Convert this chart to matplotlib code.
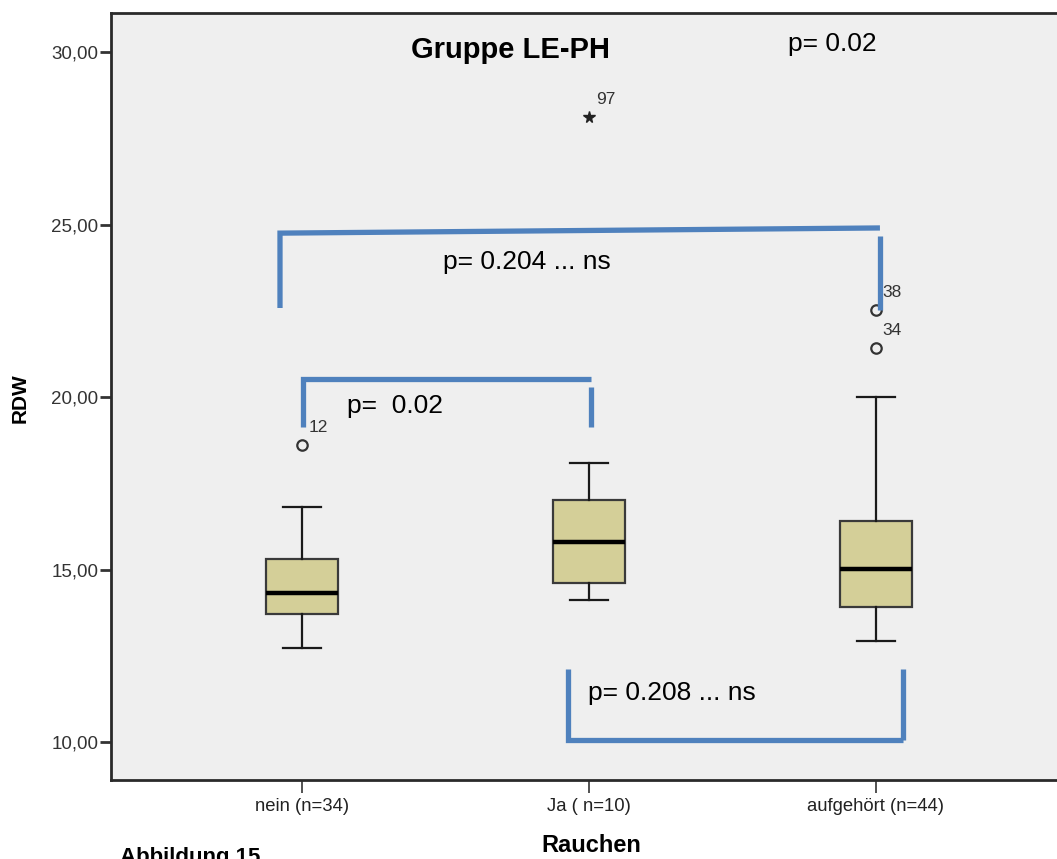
import matplotlib
matplotlib.use("Agg")
import matplotlib.pyplot as plt
from matplotlib import font_manager

# ---------------- data ----------------
categories = ["nein (n=34)", "Ja ( n=10)", "aufgehört (n=44)"]
whislo = [12.72, 14.12, 12.93]
q1 = [13.71, 14.61, 13.91]
med = [14.32, 15.80, 15.01]
q3 = [15.30, 17.01, 16.41]
whishi = [16.81, 18.09, 20.00]
outliers = [[18.61], [], [22.52, 21.42]]
outlier_ids = [["12"], [], ["38", "34"]]
extremes = [[], [28.12], []]
extreme_ids = [[], ["97"], []]
yticks = [10, 15, 20, 25, 30]
ytick_labels = ["10,00", "15,00", "20,00", "25,00", "30,00"]

title = "Gruppe LE-PH"
xlabel = "Rauchen"
ylabel = "RDW"

# significance annotations: (x_left, x_right, y_left_end, y_bar_left, y_bar_right, y_right_end, text, text_x, text_y)
brackets = [
    (-0.077, 2.014, 22.58, 24.75, 24.90, 22.52, "p= 0.204 ... ns", 0.491, 23.91),
    (0.003, 1.007, 19.13, 20.52, 20.52, 19.13, "p=  0.02", 0.157, 19.74),
    (0.927, 2.094, 12.12, 10.06, 10.06, 12.12, "p= 0.208 ... ns", 0.997, 11.42),
]
overall_p = "p= 0.02"

# ---------------- fonts ----------------
names = {f.name for f in font_manager.fontManager.ttflist}
base = "Liberation Sans" if "Liberation Sans" in names else "DejaVu Sans"
narrow = "Liberation Sans Narrow" if "Liberation Sans Narrow" in names else base
plt.rcParams["font.family"] = [base, "DejaVu Sans"]

W, H = 1057, 859
fig = plt.figure(figsize=(W / 100, H / 100), dpi=100)
fig.patch.set_facecolor("white")

ax_left, ax_top, ax_bottom = 111 / W, 1 - 13 / H, 1 - 780 / H
ax_w = 956 / W
ax = fig.add_axes([ax_left, ax_bottom, ax_w, ax_top - ax_bottom])
ax.set_facecolor("#efefef")

positions = list(range(len(categories)))
stats = []
for i, c in enumerate(categories):
    stats.append(dict(label=c, whislo=whislo[i], q1=q1[i], med=med[i],
                      q3=q3[i], whishi=whishi[i], fliers=outliers[i]))

ax.bxp(stats, positions=positions, widths=0.25, patch_artist=True,
       showfliers=True,
       boxprops=dict(facecolor="#d4cf98", edgecolor="#3a3a3a", linewidth=1.6),
       medianprops=dict(color="black", linewidth=3.2),
       whiskerprops=dict(color="#1a1a1a", linewidth=1.6),
       capprops=dict(color="#1a1a1a", linewidth=1.6),
       capwidths=0.13,
       flierprops=dict(marker="o", markerfacecolor="none", markeredgecolor="#333333",
                       markersize=7.5, markeredgewidth=1.6, linestyle="none"),
       zorder=3)

# outlier labels
for i in positions:
    for v, lab in zip(outliers[i], outlier_ids[i]):
        ax.annotate(lab, (i, v), xytext=(5, 7), textcoords="offset points",
                    fontsize=12.5, color="#333333", family=[narrow, "DejaVu Sans"],
                    ha="left", va="bottom")
    for v, lab in zip(extremes[i], extreme_ids[i]):
        ax.plot([i], [v], marker="*", color="#222222", markersize=8.5, linestyle="none", zorder=4)
        ax.annotate(lab, (i, v), xytext=(5, 7), textcoords="offset points",
                    fontsize=12.5, color="#333333", family=[narrow, "DejaVu Sans"],
                    ha="left", va="bottom")

# brackets
blue = "#4f81bd"
for (xl, xr, yl0, ybl, ybr, yr0, txt, tx, ty) in brackets:
    ax.plot([xl, xl, xr], [yl0, ybl, ybr], color=blue, linewidth=3.8,
            solid_capstyle="butt", solid_joinstyle="miter", zorder=5)
    if yl0 > ybl:  # bottom bracket
        ax.plot([xr, xr], [ybr, yr0], color=blue, linewidth=3.8,
                solid_capstyle="butt", zorder=5)
    else:
        ax.plot([xr, xr], [ybr - 0.23, yr0], color=blue, linewidth=3.8,
                solid_capstyle="butt", zorder=5)
    ax.text(tx, ty, txt, fontsize=19, ha="left", va="center", color="black", zorder=6)

ax.text(0.725, 30.06, title, fontsize=21, fontweight="bold", ha="center", va="center")
ax.text(1.693, 30.23, overall_p, fontsize=19, ha="left", va="center")

ax.set_xlim(-0.666, 2.666)
ax.set_ylim(8.90, 31.13)
ax.set_yticks(yticks)
ax.set_yticklabels(ytick_labels)
ax.set_xticks(positions)
ax.set_xticklabels(categories)

for lab in ax.get_yticklabels():
    lab.set_fontsize(13.5)
    lab.set_color("#333333")
for lab in ax.get_xticklabels():
    lab.set_fontsize(13.3)
    lab.set_color("#222222")
    lab.set_family([narrow, "DejaVu Sans"])

ax.tick_params(axis="y", direction="out", length=8, width=2, color="#333333", pad=1)
ax.tick_params(axis="x", direction="out", length=9, width=1.2, color="#333333", pad=4)

for s in ["left", "top", "bottom"]:
    ax.spines[s].set_color("#2a2a2a")
    ax.spines[s].set_linewidth(2)
ax.spines["right"].set_visible(False)

fig.text(20 / W, 1 - 398 / H, ylabel, rotation=90, fontsize=15, fontweight="bold",
         ha="center", va="center", family=[narrow, "DejaVu Sans"])
fig.text(591 / W, 1 - 846 / H, xlabel, fontsize=17, fontweight="bold",
         ha="center", va="center", family=[narrow, "DejaVu Sans"])
fig.text(120 / W, 1 - 847 / H, "Abbildung 15", fontsize=16, fontweight="bold",
         ha="left", va="top")

fig.savefig("out.png", dpi=100, facecolor="white")
